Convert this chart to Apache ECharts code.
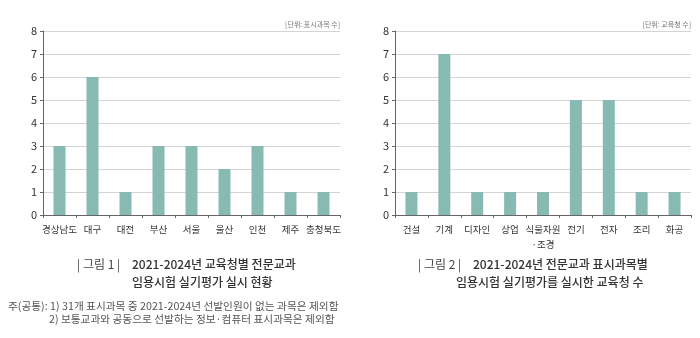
<!DOCTYPE html>
<html><head><meta charset="utf-8">
<script src="https://cdn.jsdelivr.net/npm/echarts@6/dist/echarts.min.js"></script>
<style>html,body{margin:0;padding:0;background:#fff}#c{width:700px;height:338px}</style>
</head><body><div id="c"></div>
<script>
const categories1 = ['경상남도','대구','대전','부산','서울','울산','인천','제주','충청북도'];
const values1 = [3,6,1,3,3,2,3,1,1];
const categories2 = ['건설','기계','디자인','상업','식물자원\n·조경','전기','전자','조리','화공'];
const values2 = [1,7,1,1,1,5,5,1,1];
const yTicks = [0,1,2,3,4,5,6,7,8];
const unit1 = '[단위: 표시과목 수]';
const unit2 = '[단위: 교육청 수]';
const title1 = ['| 그림 1 |','2021-2024년 교육청별 전문교과','임용시험 실기평가 실시 현황'];
const title2 = ['| 그림 2 |','2021-2024년 전문교과 표시과목별','임용시험 실기평가를 실시한 교육청 수'];
const notes = ['주(공통): 1) 31개 표시과목 중 2021-2024년 선발인원이 없는 과목은 제외함','2) 보통교과와 공동으로 선발하는 정보·컴퓨터 표시과목은 제외함'];

const FONT = '"Noto Sans CJK KR", "Noto Sans", sans-serif';
const BAR = '#88bab4';
function xAxis(cats, gi){
  return {type:'category', gridIndex:gi, data:cats,
    axisLine:{lineStyle:{color:'#666',width:1}},
    axisTick:{show:true,length:3,lineStyle:{color:'#666'}},
    axisLabel:{color:'#333',fontSize:9.5,fontFamily:FONT,margin:7,lineHeight:15,interval:0}};
}
function yAxis(gi){
  return {type:'value', gridIndex:gi, min:yTicks[0], max:yTicks[yTicks.length-1], interval:1,
    axisLine:{show:true,lineStyle:{color:'#666'}},
    axisTick:{show:true,length:3,lineStyle:{color:'#666'}},
    splitLine:{lineStyle:{color:'#d4d4d4'}},
    axisLabel:{color:'#333',fontSize:11,fontFamily:FONT,margin:6}};
}
const chart = echarts.init(document.getElementById('c'), null, {renderer:'canvas'});
const tStyle = (txt,x,y,size,color,weight)=>({type:'text',left:x,top:y,style:{text:txt,fontSize:size,fill:color,fontFamily:FONT,fontWeight:weight||'normal'}});
chart.setOption({
  animation:false,
  grid:[{left:43,right:360,top:31,bottom:123},{left:395,right:9,top:31,bottom:123}],
  xAxis:[xAxis(categories1,0),xAxis(categories2,1)],
  yAxis:[yAxis(0),yAxis(1)],
  series:[
    {type:'bar',xAxisIndex:0,yAxisIndex:0,data:values1,barWidth:12,itemStyle:{color:BAR}},
    {type:'bar',xAxisIndex:1,yAxisIndex:1,data:values2,barWidth:12,itemStyle:{color:BAR}}
  ],
  graphic:[
    {type:'text',right:360,top:21,style:{text:unit1,fontSize:7,fill:'#777',fontFamily:FONT,textAlign:'right'}},
    {type:'text',right:9,top:21,style:{text:unit2,fontSize:7,fill:'#777',fontFamily:FONT,textAlign:'right'}},
    tStyle(title1[0],77,258,12,'#444'),
    tStyle(title1[1],132,258,12,'#333','500'),
    tStyle(title1[2],132,276,12,'#333','500'),
    tStyle(title2[0],418,258,12,'#444'),
    tStyle(title2[1],473,258,12,'#333','500'),
    tStyle(title2[2],456,276,12,'#333','500'),
    tStyle(notes[0],8,301,10.7,'#555'),
    tStyle(notes[1],49,314,10.7,'#555')
  ]
});
</script></body></html>
